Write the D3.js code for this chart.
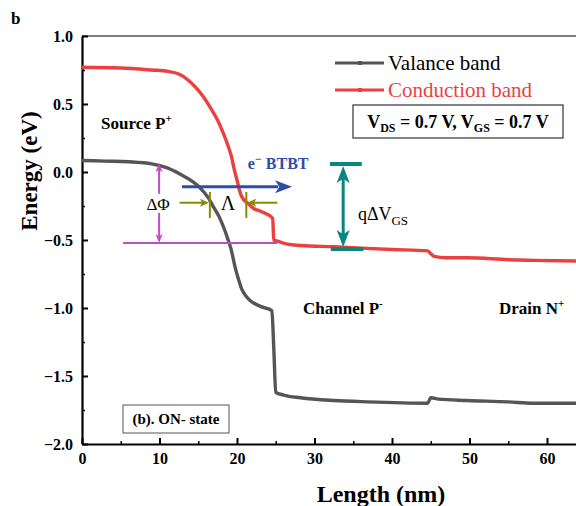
<!DOCTYPE html>
<html>
<head>
<meta charset="utf-8">
<script src="https://cdn.jsdelivr.net/npm/d3@7"></script>
<style>
  body { margin: 0; background: #fff; }
  svg { display: block; }
  text { font-family: "Liberation Serif", "Times New Roman", serif; }
</style>
</head>
<body>
<svg id="chart" width="576" height="506"></svg>
<script>
// DATA
const valenceX = [0, 3, 6, 9, 11, 12.8, 14, 15.3, 16.3, 17.0, 17.7, 18.3, 18.8, 19.2, 19.8, 20.2, 20.6, 21.2, 21.8, 23.1, 24.5, 24.75, 25.0, 26, 28.2, 32.5, 36.8, 44.6, 45.0, 46, 49.7, 55, 58.2, 64]
const valenceE = [0.085, 0.08, 0.075, 0.06, 0.03, -0.02, -0.06, -0.12, -0.19, -0.26, -0.33, -0.41, -0.49, -0.56, -0.71, -0.79, -0.86, -0.915, -0.95, -0.99, -1.02, -1.30, -1.62, -1.64, -1.66, -1.68, -1.69, -1.70, -1.66, -1.67, -1.68, -1.69, -1.70, -1.70]

const conductionX = [0, 5, 9, 11.1, 12.5, 13.6, 14.7, 15.7, 16.6, 17.5, 18.2, 18.8, 19.3, 19.6, 20.0, 20.3, 20.6, 21.4, 22.2, 23.1, 24.6, 24.75, 25.3, 26.5, 28.2, 32.5, 40, 44.6, 45.0, 45.4, 47, 49.7, 55, 58.2, 64]
const conductionE = [0.77, 0.765, 0.75, 0.74, 0.72, 0.68, 0.62, 0.55, 0.47, 0.38, 0.29, 0.20, 0.11, 0.03, -0.06, -0.13, -0.18, -0.23, -0.27, -0.29, -0.34, -0.50, -0.51, -0.53, -0.54, -0.55, -0.57, -0.58, -0.60, -0.62, -0.63, -0.63, -0.645, -0.65, -0.655]

const xTicks = [0, 10, 20, 30, 40, 50, 60]
const xMinorTicks = [5, 15, 25, 35, 45, 55]
const yTicks = [1.0, 0.5, 0.0, -0.5, -1.0, -1.5, -2.0]
const yMinorTicks = [0.75, 0.25, -0.25, -0.75, -1.25, -1.75]

const seriesNames = ["Valance band", "Conduction band"]
const seriesColours = ["#555555", "#ec3f3f"]

// SETUP
let svg = d3.select('#chart')
let serif = '"Liberation Serif", "Times New Roman", serif'
let margins = {top: 36, bottom: 62, left: 82, right: -2}
let svgWidth = 576 - margins.left - margins.right
let svgHeight = 506 - margins.top - margins.bottom

let x = d3.scaleLinear().domain([0, 64]).range([margins.left, margins.left + svgWidth])
let y = d3.scaleLinear().domain([-2.0, 1.0]).range([margins.top + svgHeight, margins.top])

// TOP FRAME
svg.append('line')
    .attr('x1', x(0)).attr('x2', 576)
    .attr('y1', y(1.0)).attr('y2', y(1.0))
    .attr('stroke', '#000').attr('stroke-width', 1.2)

// X AXIS
svg.append('g')
    .attr('transform', `translate(0, ${y(-2.0)})`)
    .call(d3.axisBottom(x).tickValues(xMinorTicks).tickSize(-3).tickFormat('').tickSizeOuter(0))
    .call(g => g.select('.domain').remove())
    .selectAll('line').attr('stroke-width', 1.5)

svg.append('g')
    .attr('transform', `translate(0, ${y(-2.0)})`)
    .call(d3.axisBottom(x).tickValues(xTicks).tickSize(-6).tickSizeOuter(0).tickPadding(9).tickFormat(d3.format('d')))
    .call(g => g.select('.domain').attr('stroke-width', 2.2))
    .call(g => g.selectAll('line').attr('stroke-width', 2))
    .selectAll('text')
    .attr('font-family', serif)
    .attr('font-size', 16)
    .attr('font-weight', 'bold')
    .attr('fill', '#000')

// Y AXIS
svg.append('g')
    .attr('transform', `translate(${x(0)}, 0)`)
    .call(d3.axisLeft(y).tickValues(yMinorTicks).tickSize(-3).tickFormat('').tickSizeOuter(0))
    .call(g => g.select('.domain').remove())
    .selectAll('line').attr('stroke-width', 1.5)

svg.append('g')
    .attr('transform', `translate(${x(0)}, 0)`)
    .call(d3.axisLeft(y).tickValues(yTicks).tickSize(-6).tickSizeOuter(0).tickPadding(9).tickFormat(d3.format('.1f')))
    .call(g => g.select('.domain').attr('stroke-width', 2.2))
    .call(g => g.selectAll('line').attr('stroke-width', 2))
    .selectAll('text')
    .attr('font-family', serif)
    .attr('font-size', 16)
    .attr('font-weight', 'bold')
    .attr('fill', '#000')

// AXIS LABELS
svg.append('text')
    .attr('x', 381)
    .attr('y', 502)
    .attr('text-anchor', 'middle')
    .attr('font-family', serif)
    .attr('font-size', 24)
    .attr('font-weight', 'bold')
    .text('Length (nm)')

svg.append('text')
    .attr('transform', 'translate(37, 171) rotate(-90)')
    .attr('text-anchor', 'middle')
    .attr('font-family', serif)
    .attr('font-size', 23)
    .attr('font-weight', 'bold')
    .text('Energy (eV)')

// PANEL LETTER
svg.append('text')
    .attr('x', 11)
    .attr('y', 24)
    .attr('font-family', '"Liberation Sans", Arial, sans-serif')
    .attr('font-size', 17)
    .attr('font-weight', 'bold')
    .text('b')

// LINES
let line = d3.line()
    .x(d => x(d[0]))
    .y(d => y(d[1]))
    .curve(d3.curveMonotoneX)

let series = [
    d3.zip(valenceX, valenceE),
    d3.zip(conductionX, conductionE)
]

let plot = svg.append('g')

plot.selectAll('.band')
    .data(series)
    .join('path')
    .classed('band', true)
    .attr('d', line)
    .attr('fill', 'none')
    .attr('stroke', (d, i) => seriesColours[i])
    .attr('stroke-width', 3.4)
    .attr('stroke-linejoin', 'round')

// ARROW HEAD HELPER
function arrowHead(px, py, angle, len, wid, colour) {
    let a = angle * Math.PI / 180
    let ux = Math.cos(a), uy = Math.sin(a)
    let bx = px - ux * len, by = py - uy * len
    let pts = [
        [px, py],
        [bx - uy * wid / 2, by + ux * wid / 2],
        [bx + ux * len * 0.25, by + uy * len * 0.25],
        [bx + uy * wid / 2, by - ux * wid / 2]
    ]
    svg.append('polygon')
        .attr('points', pts.map(p => p.join(',')).join(' '))
        .attr('fill', colour)
}

// MAGENTA DELTA PHI
let magenta = '#c04cc0'
svg.append('line')
    .attr('x1', x(5.3)).attr('x2', x(25.2))
    .attr('y1', y(-0.522)).attr('y2', y(-0.522))
    .attr('stroke', magenta).attr('stroke-width', 2)
svg.append('line')
    .attr('x1', x(9.95)).attr('x2', x(9.95))
    .attr('y1', y(0.066) + 6).attr('y2', y(-0.16))
    .attr('stroke', magenta).attr('stroke-width', 2)
svg.append('line')
    .attr('x1', x(9.95)).attr('x2', x(9.95))
    .attr('y1', y(-0.30)).attr('y2', y(-0.522) - 6)
    .attr('stroke', magenta).attr('stroke-width', 2)
arrowHead(x(9.95), y(0.066), -90, 9, 7, magenta)
arrowHead(x(9.95), y(-0.522), 90, 9, 7, magenta)
svg.append('text')
    .attr('x', x(9.95) - 1)
    .attr('y', y(-0.235) + 6)
    .attr('text-anchor', 'middle')
    .attr('font-family', serif)
    .attr('font-size', 17)
    .attr('fill', '#000')
    .style('paint-order', 'stroke')
    .attr('stroke', '#fff').attr('stroke-width', 3)
    .text('ΔΦ')

// BLUE BTBT ARROW
let blue = '#2f4ca8'
svg.append('line')
    .attr('x1', x(12.9)).attr('x2', x(25.3))
    .attr('y1', y(-0.108)).attr('y2', y(-0.108))
    .attr('stroke', blue).attr('stroke-width', 3)
arrowHead(x(27.1), y(-0.108), 0, 17, 13, blue)
let btbt = svg.append('text')
    .attr('x', x(21.4))
    .attr('y', y(0.025))
    .attr('font-family', serif)
    .attr('font-size', 16)
    .attr('font-weight', 'bold')
    .attr('fill', blue)
btbt.append('tspan').text('e')
btbt.append('tspan').attr('dy', -6).attr('font-size', 12).text('−')
btbt.append('tspan').attr('dy', 6).text(' BTBT')

// OLIVE LAMBDA ARROWS
let olive = '#8a8a00'
svg.append('line')
    .attr('x1', x(16.5)).attr('x2', x(16.5))
    .attr('y1', y(-0.147)).attr('y2', y(-0.338))
    .attr('stroke', olive).attr('stroke-width', 2)
svg.append('line')
    .attr('x1', x(21.2)).attr('x2', x(21.2))
    .attr('y1', y(-0.147)).attr('y2', y(-0.338))
    .attr('stroke', olive).attr('stroke-width', 2)
svg.append('line')
    .attr('x1', x(12.6)).attr('x2', x(16.5) - 7)
    .attr('y1', y(-0.226)).attr('y2', y(-0.226))
    .attr('stroke', olive).attr('stroke-width', 2)
arrowHead(x(16.5) - 1, y(-0.226), 0, 9, 8, olive)
svg.append('line')
    .attr('x1', x(25.2)).attr('x2', x(21.2) + 7)
    .attr('y1', y(-0.226)).attr('y2', y(-0.226))
    .attr('stroke', olive).attr('stroke-width', 2)
arrowHead(x(21.2) + 1, y(-0.226), 180, 9, 8, olive)
svg.append('text')
    .attr('x', x(18.85))
    .attr('y', y(-0.226) + 7)
    .attr('text-anchor', 'middle')
    .attr('font-family', serif)
    .attr('font-size', 20)
    .attr('fill', '#000')
    .text('Λ')

// TEAL q DELTA V_GS
let teal = '#0a8580'
svg.append('line')
    .attr('x1', x(32.0)).attr('x2', x(36.1))
    .attr('y1', y(0.059)).attr('y2', y(0.059))
    .attr('stroke', teal).attr('stroke-width', 4)
svg.append('line')
    .attr('x1', x(32.1)).attr('x2', x(36.3))
    .attr('y1', y(-0.566)).attr('y2', y(-0.566))
    .attr('stroke', teal).attr('stroke-width', 4)
svg.append('line')
    .attr('x1', x(33.7)).attr('x2', x(33.7))
    .attr('y1', y(0.059) + 10).attr('y2', y(-0.566) - 10)
    .attr('stroke', teal).attr('stroke-width', 3)
arrowHead(x(33.7), y(0.059) + 2, -90, 17, 13, teal)
arrowHead(x(33.7), y(-0.566) - 2, 90, 17, 13, teal)
let qv = svg.append('text')
    .attr('x', x(35.6))
    .attr('y', y(-0.35))
    .attr('font-family', serif)
    .attr('font-size', 18)
    .attr('fill', '#000')
qv.append('tspan').text('qΔV')
qv.append('tspan').attr('dy', 5).attr('font-size', 13).text('GS')

// REGION LABELS
function regionLabel(px, py, main, sup) {
    let t = svg.append('text')
        .attr('x', px)
        .attr('y', py)
        .attr('font-family', serif)
        .attr('font-size', 17)
        .attr('font-weight', 'bold')
        .attr('fill', '#000')
    t.append('tspan').text(main)
    t.append('tspan').attr('dy', -7).attr('font-size', 11).text(sup)
}
regionLabel(101, 129, 'Source P', '+')
regionLabel(303, 314, 'Channel P', '-')
regionLabel(499, 314, 'Drain N', '+')

// LEGEND
let legend = svg.append('g')
seriesNames.forEach((name, i) => {
    let ly = 63 + i * 27
    legend.append('line')
        .attr('x1', 335).attr('x2', 384)
        .attr('y1', ly).attr('y2', ly)
        .attr('stroke', seriesColours[i]).attr('stroke-width', 3)
    legend.append('rect')
        .attr('x', 358).attr('y', ly - 2)
        .attr('width', 4).attr('height', 4)
        .attr('fill', seriesColours[i])
    legend.append('text')
        .attr('x', 388)
        .attr('y', ly + 7)
        .attr('font-family', serif)
        .attr('font-size', 21)
        .attr('fill', i === 1 ? seriesColours[i] : '#000')
        .text(name)
})

// BIAS BOX
svg.append('rect')
    .attr('x', 353).attr('y', 105)
    .attr('width', 210).attr('height', 33)
    .attr('fill', '#fff')
    .attr('stroke', '#333').attr('stroke-width', 1.2)
let bias = svg.append('text')
    .attr('x', 458)
    .attr('y', 128)
    .attr('text-anchor', 'middle')
    .attr('font-family', serif)
    .attr('font-size', 18)
    .attr('font-weight', 'bold')
    .attr('fill', '#000')
bias.append('tspan').text('V')
bias.append('tspan').attr('dy', 4).attr('font-size', 12).text('DS')
bias.append('tspan').attr('dy', -4).text(' = 0.7 V, V')
bias.append('tspan').attr('dy', 4).attr('font-size', 12).text('GS')
bias.append('tspan').attr('dy', -4).text(' = 0.7 V')

// STATE BOX
svg.append('rect')
    .attr('x', 123).attr('y', 405)
    .attr('width', 106).attr('height', 28)
    .attr('fill', '#fff')
    .attr('stroke', '#555').attr('stroke-width', 1)
svg.append('text')
    .attr('x', 176)
    .attr('y', 424)
    .attr('text-anchor', 'middle')
    .attr('font-family', serif)
    .attr('font-size', 15)
    .attr('font-weight', 'bold')
    .attr('fill', '#000')
    .text('(b). ON- state')
</script>
</body>
</html>
